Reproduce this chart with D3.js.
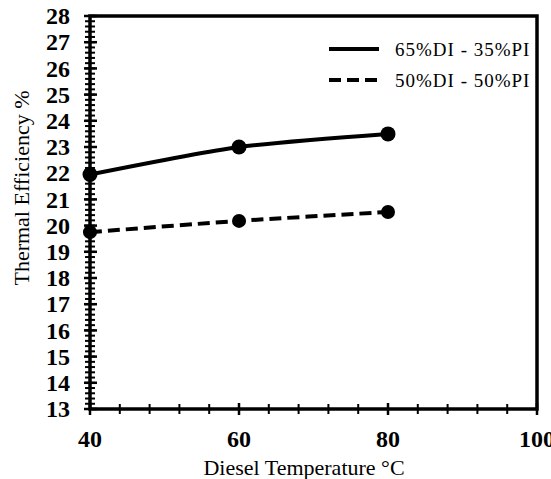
<!DOCTYPE html>
<html>
<head>
<meta charset="utf-8">
<script src="https://cdn.jsdelivr.net/npm/d3@7"></script>
<style>
  body { margin: 0; background: #fff; }
  svg { display: block; }
</style>
</head>
<body>
<svg id="chart" width="551" height="479"></svg>
<script>
// data
var temps = [40, 60, 80];
var di65 = [21.95, 23.0, 23.5];
var di50 = [19.75, 20.18, 20.52];
var seriesNames = ["65%DI - 35%PI", "50%DI - 50%PI"];
var xTicks = [40, 60, 80, 100];
var yTicks = d3.range(13, 29);

var svg = d3.select("#chart");
var margin = { top: 16, right: 14, bottom: 70, left: 90 };
var width = 551 - margin.left - margin.right;
var height = 479 - margin.top - margin.bottom;

var g = svg.append("g").attr("transform", "translate(" + margin.left + "," + margin.top + ")");

var x = d3.scaleLinear().domain([40, 100]).range([0, width]);
var y = d3.scaleLinear().domain([13, 28]).range([height, 0]);

var serif = "'Liberation Serif', 'Times New Roman', serif";

// frame
g.append("rect")
    .attr("width", width)
    .attr("height", height)
    .attr("fill", "none")
    .attr("stroke", "#000")
    .attr("stroke-width", 3.5);

// y minor ticks (every 0.2), crossing the axis
var yMinor = d3.range(13, 28.001, 0.2);
g.selectAll(".ymin").data(yMinor).enter().append("line")
    .attr("x1", -5).attr("x2", 5)
    .attr("y1", function(d) { return y(d); })
    .attr("y2", function(d) { return y(d); })
    .attr("stroke", "#000").attr("stroke-width", 2);

g.selectAll(".ymaj").data(yTicks).enter().append("line")
    .attr("x1", -6).attr("x2", 7)
    .attr("y1", function(d) { return y(d); })
    .attr("y2", function(d) { return y(d); })
    .attr("stroke", "#000").attr("stroke-width", 2.5);

g.selectAll(".ylab").data(yTicks).enter().append("text")
    .attr("x", -20)
    .attr("y", function(d) { return y(d); })
    .attr("dy", "0.34em")
    .attr("text-anchor", "end")
    .style("font", "bold 24px " + serif)
    .text(function(d) { return d; });

// x minor ticks (every 4)
var xMinor = d3.range(40, 100.001, 4);
g.selectAll(".xmin").data(xMinor).enter().append("line")
    .attr("x1", function(d) { return x(d); })
    .attr("x2", function(d) { return x(d); })
    .attr("y1", height - 5).attr("y2", height + 5)
    .attr("stroke", "#000").attr("stroke-width", 2);

g.selectAll(".xmaj").data(xTicks).enter().append("line")
    .attr("x1", function(d) { return x(d); })
    .attr("x2", function(d) { return x(d); })
    .attr("y1", height - 6).attr("y2", height + 6)
    .attr("stroke", "#000").attr("stroke-width", 2.5);

// the last label runs past the right edge, as in the original
g.selectAll(".xlab").data(xTicks).enter().append("text")
    .attr("x", function(d) { return x(d); })
    .attr("y", height + 38)
    .attr("text-anchor", "middle")
    .style("font", "bold 24px " + serif)
    .text(function(d) { return d; });

// axis titles
svg.append("text")
    .attr("x", 304)
    .attr("y", 475)
    .attr("text-anchor", "middle")
    .style("font", "22px " + serif)
    .text("Diesel Temperature \u00B0C");

svg.append("text")
    .attr("transform", "translate(29,188) rotate(-90)")
    .attr("text-anchor", "middle")
    .style("font", "22px " + serif)
    .text("Thermal Efficiency %");

// series
var line = d3.line()
    .curve(d3.curveCardinal.tension(0.3))
    .x(function(d) { return x(d[0]); })
    .y(function(d) { return y(d[1]); });

var series = [
    { name: seriesNames[0], values: d3.zip(temps, di65), dash: null, r: 7.5 },
    { name: seriesNames[1], values: d3.zip(temps, di50), dash: "12,6", r: 7 }
];

series.forEach(function(s) {
    g.append("path")
        .datum(s.values)
        .attr("d", line)
        .attr("fill", "none")
        .attr("stroke", "#000")
        .attr("stroke-width", 4)
        .attr("stroke-dasharray", s.dash);
    g.selectAll(null).data(s.values).enter().append("circle")
        .attr("cx", function(d) { return x(d[0]); })
        .attr("cy", function(d) { return y(d[1]); })
        .attr("r", s.r)
        .attr("fill", "#000");
});

// legend
var legend = svg.append("g").attr("transform", "translate(329,49)");
series.forEach(function(s, i) {
    legend.append("line")
        .attr("x1", 0).attr("x2", 50)
        .attr("y1", i * 31).attr("y2", i * 31)
        .attr("stroke", "#000")
        .attr("stroke-width", 4)
        .attr("stroke-dasharray", s.dash);
    legend.append("text")
        .attr("x", 66)
        .attr("y", i * 31)
        .attr("dy", "0.35em")
        .style("font", "19px " + serif)
        .style("letter-spacing", "1px")
        .text(s.name);
});
</script>
</body>
</html>
